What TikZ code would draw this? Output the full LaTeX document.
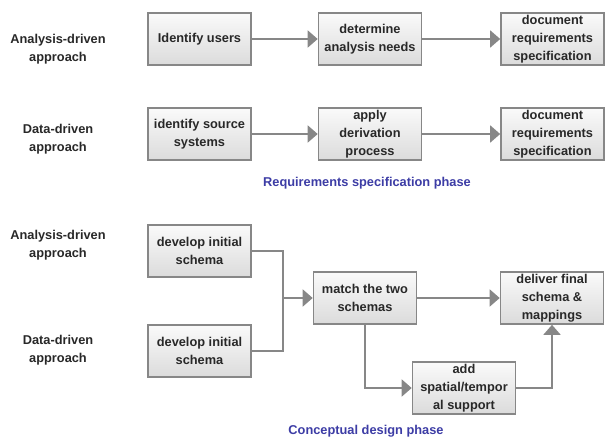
\documentclass[tikz,border=0pt]{standalone}
\usepackage{fontspec}
\setmainfont{Liberation Sans}
\usetikzlibrary{arrows.meta}
\definecolor{boxline}{RGB}{135,135,135}
\definecolor{phaseblue}{RGB}{60,60,165}
\definecolor{ink}{RGB}{40,40,40}
\begin{document}
\begin{tikzpicture}[x=1pt, y=-1pt,
	font=\fontsize{12.8}{18}\selectfont\bfseries, text=ink,
	stepbox/.style={draw=boxline, line width=1.6pt, top color=white!96!gray, bottom color=gray!28,
		minimum width=103pt, minimum height=52pt, align=center, inner sep=1pt},
	side/.style={align=center},
	phase/.style={text=phaseblue},
	link/.style={draw=boxline, line width=1.8pt},
	arr/.style={link, -{Triangle[length=10pt, width=17pt]}}]
	\useasboundingbox (0,0) rectangle (606,439);

	% requirements specification phase
	\node[side] (ra) at (58,49) {Analysis-driven\\approach};
	\node[side] (rd) at (58,139) {Data-driven\\approach};
	\node[stepbox] (iu) at (199.5,39) {Identify users};
	\node[stepbox] (dan) at (370,39) {determine\\analysis needs};
	\node[stepbox] (drs1) at (552.5,39) {document\\requirements\\specification};
	\node[stepbox] (iss) at (199.5,134) {identify source\\systems};
	\node[stepbox] (adp) at (370,134) {apply\\derivation\\process};
	\node[stepbox] (drs2) at (552.5,134) {document\\requirements\\specification};
	\node[phase] (rsp) at (367,183) {Requirements specification phase};

	\draw[arr] (iu) -- (dan);
	\draw[arr] (dan) -- (drs1);
	\draw[arr] (iss) -- (adp);
	\draw[arr] (adp) -- (drs2);

	% conceptual design phase
	\node[side] (ca) at (58,245) {Analysis-driven\\approach};
	\node[side] (cd) at (58,350) {Data-driven\\approach};
	\node[stepbox] (dis1) at (199.5,251) {develop initial\\schema};
	\node[stepbox] (dis2) at (199.5,351) {develop initial\\schema};
	\node[stepbox] (mts) at (365,298) {match the two\\schemas};
	\node[stepbox] (dfs) at (552,298) {deliver final\\schema \&\\mappings};
	\node[stepbox] (ass) at (464,388) {add\\spatial/tempor\\al support};
	\node[phase] (cdp) at (366,431) {Conceptual design phase};

	\coordinate (join) at (283,298);
	\draw[link] (dis1.east) -| (join);
	\draw[link] (dis2.east) -| (join);
	\draw[arr] (join) -- (mts);
	\draw[arr] (mts) -- (dfs);
	\draw[arr] (mts.south) |- (ass.west);
	\draw[arr] (ass.east) -| (dfs.south);
\end{tikzpicture}
\end{document}
